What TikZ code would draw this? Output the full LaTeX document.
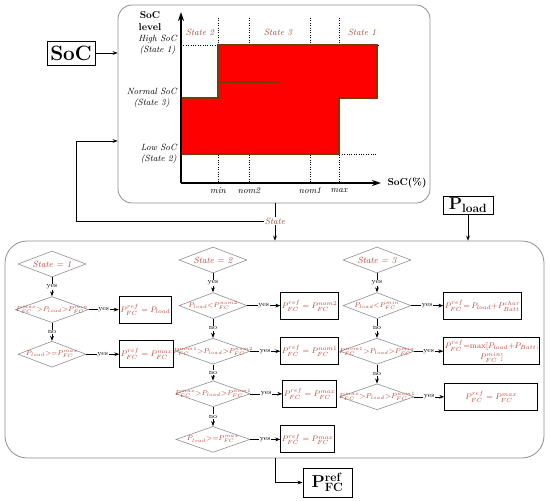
\documentclass[tikz,border=0pt]{standalone}
\usepackage{xcolor}
\usepackage{tikz}
\usetikzlibrary{shapes.geometric,arrows.meta,positioning,calc}
\definecolor{socred}{HTML}{FF0000}
\definecolor{socbrown}{HTML}{7A3A08}
\definecolor{txtred}{HTML}{B8433A}
\definecolor{lblbrown}{HTML}{9A4E3C}
\definecolor{framegray}{HTML}{8F8F8F}
\tikzset{
  arr/.style={-{Stealth[length=5pt]},semithick},
  axis/.style={-{Stealth[length=9pt,width=6pt]},line width=1.4pt},
  grid/.style={dotted,thin},
  frame/.style={rectangle,rounded corners=16pt,draw=framegray,line width=0.8pt},
  inbox/.style={rectangle,draw=black,line width=1pt,inner sep=1pt},
  rbox/.style={rectangle,draw=black,line width=1pt,minimum height=27pt,
    text=txtred,font=\footnotesize,inner sep=1pt,align=center},
  dia/.style={diamond,draw=framegray,line width=0.6pt,minimum width=68pt,
    minimum height=26pt,inner sep=0pt},
  wdia/.style={dia,minimum width=74pt},
  dlab/.style={text=txtred,font=\scriptsize,inner sep=0pt},
  slab/.style={text=txtred,font=\small\itshape,inner sep=0pt},
  yn/.style={fill=white,inner sep=0.8pt,font=\scriptsize},
}

\begin{document}
\begin{tikzpicture}[x=1pt,y=-1pt,node distance=19pt,
  lvl/.style={anchor=east,align=center,font=\small\itshape,inner sep=1pt},
  zone/.style={font=\small\itshape,text=lblbrown,inner sep=1pt},
  tick/.style={font=\small\itshape,inner sep=1pt}]
\useasboundingbox (0,0) rectangle (550,501);

% SoC chart
\node[frame,rounded corners=14pt,minimum width=312pt,minimum height=198pt] (chart) at (274,104) {};
\foreach \x in {218,249,310,339} \draw[grid] (\x,18) -- (\x,183);
\draw[grid] (181,45) -- (378,45);
\draw[grid] (181,154) -- (377,154);
\draw[fill=socred,draw=socbrown,line width=1.8pt] (218,45) -- (377,45) -- (377,98) -- (339,98)
  -- (339,154) -- (181,154) -- (181,98) -- (218,98) -- cycle;
\draw[socbrown,line width=1.6pt] (218,82) -- (279,82);
\draw[axis] (181,183) -- (181,12);
\draw[axis] (181,183) -- (381,183);
\node[font=\bfseries,align=center,inner sep=1pt] (ylab) at (150,21) {SoC\\level};
\node[font=\bfseries,inner sep=1pt] (xlab) at (407,183) {SoC(\%)};
\node[lvl] (hi) at (178,45) {High SoC\\(State 1)};
\node[lvl] (mid) at (178,98) {Normal SoC\\(State 3)};
\node[lvl] (lo) at (178,154) {Low SoC\\(State 2)};
\node[zone] (z2) at (200,32) {State 2};
\node[zone] (z3) at (278,32) {State 3};
\node[zone] (z1) at (362,32) {State 1};
\foreach \x/\t in {218/min,249/nom2,310/nom1,339/max}
  \node[tick] (t-\t) at (\x,191) {\t};

% inputs and outputs
\node[inbox,minimum width=48pt,minimum height=24pt,font=\huge\bfseries] (soc) at (71,53) {SoC};
\node[inbox,minimum width=50pt,minimum height=18pt,font=\LARGE] (pload) at (468,205) {$\mathbf{P_{load}}$};
\node[inbox,minimum width=49pt,minimum height=29pt,font=\LARGE] (pfc) at (327.5,482.5) {$\mathbf{P^{ref}_{FC}}$};
\node[frame,rounded corners=22pt,minimum width=539pt,minimum height=217pt] (ems) at (274.5,349.5) {};
\node[zone,fill=white] (st) at (275,221) {State};
\coordinate (fbk) at (76,141);

\draw[arr] (soc) -- (soc -| chart.west);
\draw[semithick] (chart.south -| st) -- (st);
\draw[arr] (st) -- (st |- ems.north);
\draw[arr] (st.west) -| (fbk) -- (fbk -| chart.west);
\draw[arr] (pload) -- (pload |- ems.north);
\draw[arr] (ems.south -| st) |- (pfc);

% State 1
\node[dia,label={[slab]center:{State = 1}}] (s1) at (52,264) {};
\node[dia,minimum width=73pt,below=of s1,
  label={[dlab]center:$P^{max}_{FC}{>}P_{load}{>}P^{min}_{FC}$}] (c1a) {};
\node[dia,below=18pt of c1a,label={[dlab]center:$P_{load}{>}{=}P^{max}_{FC}$}] (c1b) {};
\node[rbox,minimum width=52pt,right=30pt of c1a] (r1a) {$P^{ref}_{FC}=P_{load}$};
\node[rbox,minimum width=52pt,right=33pt of c1b] (r1b) {$P^{ref}_{FC}=P^{max}_{FC}$};

% State 2
\node[dia,label={[slab]center:{State = 2}}] (s2) at (213,260) {};
\node[dia,below=of s2,label={[dlab]center:$P_{load}{<}P^{nom2}_{FC}$}] (c2a) {};
\node[wdia,below=of c2a,label={[dlab]center:$P^{nom1}_{FC}{>}P_{load}{>}P^{nom2}_{FC}$}] (c2b) {};
\node[wdia,below=16pt of c2b,label={[dlab]center:$P^{max}_{FC}{>}P_{load}{>}P^{nom1}_{FC}$}] (c2c) {};
\node[wdia,below=of c2c,label={[dlab]center:$P_{load}{>}{=}P^{max}_{FC}$}] (c2d) {};
\node[rbox,minimum width=51pt,right=33pt of c2a] (r2a) {$P^{ref}_{FC}=P^{nom2}_{FC}$};
\node[rbox,minimum width=51pt,right=30pt of c2b] (r2b) {$P^{ref}_{FC}=P^{nom1}_{FC}$};
\node[rbox,minimum width=51pt,right=32pt of c2c] (r2c) {$P^{ref}_{FC}=P^{max}_{FC}$};
\node[rbox,minimum width=51pt,right=30pt of c2d] (r2d) {$P^{ref}_{FC}=P^{max}_{FC}$};

% State 3
\node[dia,label={[slab]center:{State = 3}}] (s3) at (377,260) {};
\node[dia,below=of s3,label={[dlab]center:$P_{load}{<}P^{min}_{FC}$}] (c3a) {};
\node[wdia,below=of c3a,label={[dlab]center:$P^{nom1}_{FC}{>}P_{load}{>}P^{min}_{FC}$}] (c3b) {};
\node[wdia,below=of c3b,label={[dlab]center:$P^{max}_{FC}{>}P_{load}{>}P^{nom1}_{FC}$}] (c3c) {};
\node[rbox,minimum width=70pt,right=32pt of c3a] (r3a) {$P^{ref}_{FC}{=}\,P_{load}{+}P^{char}_{Batt}$};
\node[rbox,minimum width=93pt,right=29pt of c3b] (r3b) {$P^{ref}_{FC}$=max$[P_{load}{+}P_{Batt};$\\$P^{min}_{FC}]$};
\node[rbox,minimum width=93pt,right=30pt of c3c] (r3c) {$P^{ref}_{FC}=P^{max}_{FC}$};

\draw[arr] (s1) -- node[yn]{yes} (c1a);
\draw[arr] (c1a) -- node[yn]{no} (c1b);
\draw[arr] (c1a) -- node[yn]{yes} (r1a);
\draw[arr] (c1b) -- node[yn]{yes} (r1b);
\draw[arr] (s2) -- node[yn]{yes} (c2a);
\draw[arr] (c2a) -- node[yn]{no} (c2b);
\draw[arr] (c2b) -- node[yn]{no} (c2c);
\draw[arr] (c2c) -- node[yn]{no} (c2d);
\draw[arr] (c2a) -- node[yn]{yes} (r2a);
\draw[arr] (c2b) -- node[yn]{yes} (r2b);
\draw[arr] (c2c) -- node[yn]{yes} (r2c);
\draw[arr] (c2d) -- node[yn]{yes} (r2d);
\draw[arr] (s3) -- node[yn]{yes} (c3a);
\draw[arr] (c3a) -- node[yn]{no} (c3b);
\draw[arr] (c3b) -- node[yn]{no} (c3c);
\draw[arr] (c3a) -- node[yn]{yes} (r3a);
\draw[arr] (c3b) -- node[yn]{yes} (r3b);
\draw[arr] (c3c) -- node[yn]{yes} (r3c);
\end{tikzpicture}
\end{document}
